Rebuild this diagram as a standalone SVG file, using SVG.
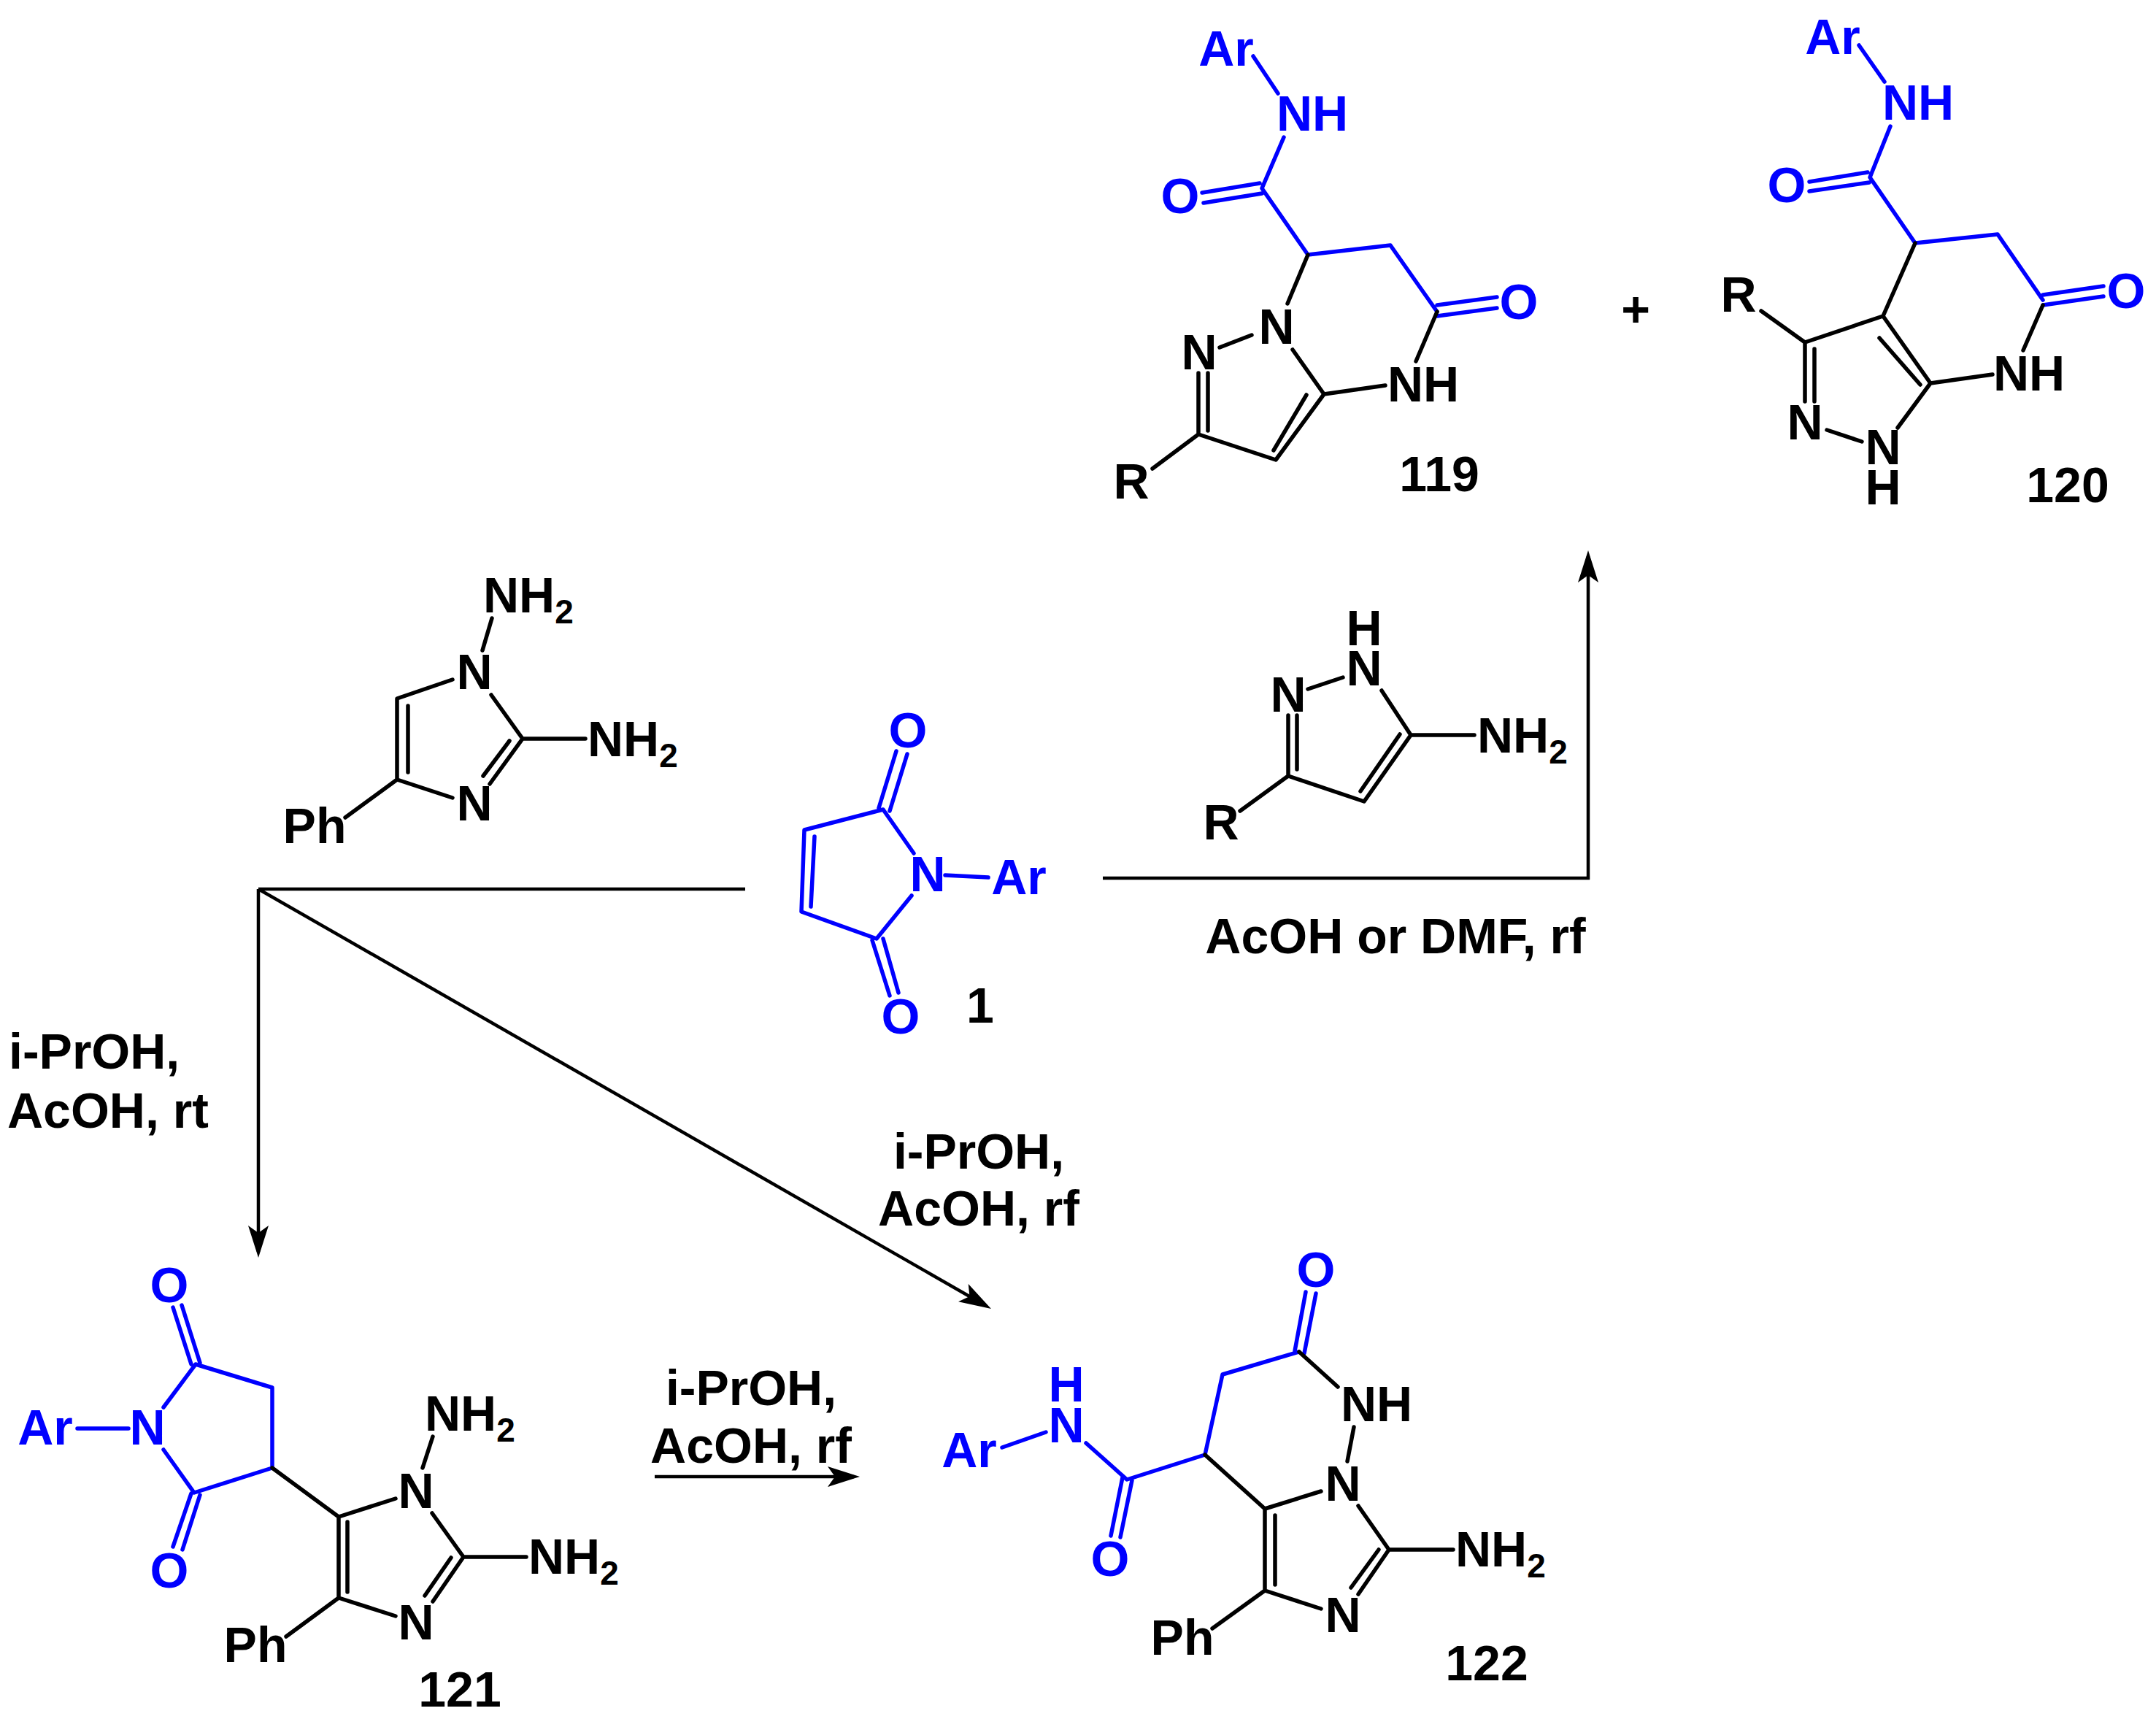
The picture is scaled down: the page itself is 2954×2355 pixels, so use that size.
<svg xmlns="http://www.w3.org/2000/svg" width="2954" height="2355" viewBox="0 0 2954 2355">
<style>
text{font-family:"Liberation Sans",Arial,sans-serif;font-weight:700;font-size:68px;fill:#000;text-anchor:middle}
.u{fill:#0000ff}
.s{text-anchor:start}
.e{font-size:46px}
path{fill:none;stroke-linecap:round;stroke-linejoin:round}
.k{stroke:#000;stroke-width:5.5}
.c{stroke:#0000ff;stroke-width:5.5}
.a{stroke:#000;stroke-width:4.5;stroke-linecap:butt}
</style>
<defs>
<marker id="ah" markerUnits="userSpaceOnUse" markerWidth="44" markerHeight="28" viewBox="0 0 44 28" refX="36" refY="14" orient="auto"><path d="M44 14L0 0L10 14L0 28Z" style="fill:#000;stroke:none"/></marker>
</defs>
<rect width="2954" height="2355" fill="#fff"/>

<g id="connectors">
<path class="a" d="M1021 1218H354"/>
<path class="a" d="M354 1218V1715" marker-end="url(#ah)"/>
<path class="a" d="M354 1218L1351 1789" marker-end="url(#ah)"/>
<path class="a" d="M1511 1203H2178"/>
<path class="a" d="M2176 1205V762" marker-end="url(#ah)"/>
<path class="a" d="M897 2023H1170" marker-end="url(#ah)"/>
</g>

<g id="compound-119">
<path class="c" d="M1717 77L1751 128M1759 188L1729 258L1792 349L1905 336L1969 427M1647 264L1726 251M1649 278L1729 265M1969 418L2051 407M1969 433L2051 422"/>
<path class="k" d="M1969 427L1940 495M1792 349L1764 416M1715 459L1671 476M1771 479L1814 540L1898 528M1814 540L1748 630L1642 595L1642 511M1790 541L1745 617M1655 590L1655 511M1642 595L1579 642"/>
<text class="u" x="1680" y="90">Ar</text><text class="u" x="1798" y="179">NH</text>
<text class="u" x="1617" y="292">O</text><text class="u" x="2081" y="437">O</text>
<text x="1950" y="550">NH</text><text x="1749" y="471">N</text><text x="1643" y="506">N</text>
<text x="1550" y="683">R</text><text x="1972" y="673">119</text>
</g>

<g id="plus"><text x="2241" y="447">+</text></g>

<g id="compound-120">
<path class="c" d="M2547 62L2582 112M2590 173L2562 243L2624 333L2737 321L2799 411M2479 249L2559 236M2479 262L2561 250M2799 404L2882 392M2799 418L2882 406"/>
<path class="k" d="M2799 418L2772 480M2624 333L2580 433L2473 469L2473 550M2486 478L2486 550M2473 469L2413 426M2503 589L2551 605M2600 586L2645 525L2580 433M2575 463L2631 527M2645 525L2730 513"/>
<text class="u" x="2511" y="74">Ar</text><text class="u" x="2628" y="164">NH</text>
<text class="u" x="2448" y="277">O</text><text class="u" x="2913" y="422">O</text>
<text x="2780" y="535">NH</text><text x="2382" y="427">R</text><text x="2473" y="602">N</text>
<text x="2580" y="636">N</text><text x="2580" y="691">H</text><text x="2833" y="688">120</text>
</g>

<g id="aminopyrazole">
<path class="k" d="M1840 928L1792 944M1893 946L1933 1007L2020 1007M1933 1007L1869 1098L1765 1063L1765 980M1918 1006L1864 1084M1777 1054L1777 980M1765 1063L1699 1111"/>
<text x="1869" y="884">H</text><text x="1869" y="939">N</text><text x="1765" y="975">N</text>
<text class="s" x="2024" y="1031">NH<tspan class="e" dy="15">2</tspan></text>
<text x="1673" y="1150">R</text>
</g>

<g id="diaminoimidazole">
<path class="k" d="M674 847L661 891M620 931L544 957L544 1068L620 1093M559 967L559 1058M673 952L716 1012L671 1074M698 1015L662 1063M716 1012L802 1012M544 1068L473 1120"/>
<text class="s" x="662" y="839">NH<tspan class="e" dy="15">2</tspan></text>
<text x="650" y="944">N</text><text x="650" y="1124">N</text>
<text class="s" x="805" y="1036">NH<tspan class="e" dy="15">2</tspan></text>
<text x="431" y="1155">Ph</text>
</g>

<g id="maleimide-1">
<path class="c" d="M1228 1029L1204 1107M1243 1033L1219 1111M1252 1169L1210 1109L1102 1137L1098 1249L1201 1286L1249 1227M1116 1146L1111 1242M1295 1199L1354 1202M1195 1288L1219 1364M1210 1286L1231 1360"/>
<text class="u" x="1244" y="1024">O</text><text class="u" x="1271" y="1221">N</text>
<text class="u" x="1396" y="1225">Ar</text><text class="u" x="1234" y="1416">O</text>
<text x="1343" y="1401">1</text>
</g>

<g id="compound-121">
<path class="c" d="M237 1791L262 1869M249 1788L274 1867M224 1928L268 1869L373 1901L373 2011L266 2045L224 1986M106 1957L176 1957M262 2046L237 2119M274 2048L250 2123"/>
<path class="k" d="M373 2011L464 2078L464 2189L542 2214M476 2085L476 2181M464 2078L542 2053M593 1968L579 2011M592 2073L635 2133L721 2133M635 2133L593 2194M618 2134L582 2186M464 2189L392 2242"/>
<text class="u" x="232" y="1784">O</text><text class="u" x="202" y="1979">N</text>
<text class="u" x="62" y="1979">Ar</text><text class="u" x="232" y="2175">O</text>
<text x="570" y="2066">N</text><text x="570" y="2246">N</text>
<text class="s" x="582" y="1960">NH<tspan class="e" dy="15">2</tspan></text>
<text class="s" x="724" y="2156">NH<tspan class="e" dy="15">2</tspan></text>
<text x="350" y="2277">Ph</text><text x="630" y="2338">121</text>
</g>

<g id="compound-122">
<path class="c" d="M1789 1770L1774 1851M1803 1772L1787 1854M1780 1852L1675 1883L1651 1993L1544 2027L1488 1977M1373 1983L1433 1962M1538 2024L1522 2104M1551 2028L1535 2106"/>
<path class="k" d="M1780 1852L1833 1900M1855 1955L1846 2002M1810 2043L1733 2067L1651 1993M1733 2067L1733 2179L1810 2204M1747 2076L1747 2171M1861 2063L1903 2123L1991 2123M1903 2123L1861 2184M1889 2123L1851 2175M1733 2179L1661 2231"/>
<text class="u" x="1803" y="1763">O</text><text class="u" x="1328" y="2010">Ar</text>
<text class="u" x="1461" y="1920">H</text><text class="u" x="1461" y="1976">N</text>
<text class="u" x="1521" y="2159">O</text>
<text x="1886" y="1947">NH</text><text x="1840" y="2056">N</text><text x="1840" y="2236">N</text>
<text class="s" x="1994" y="2146">NH<tspan class="e" dy="15">2</tspan></text>
<text x="1620" y="2267">Ph</text><text x="2037" y="2302">122</text>
</g>

<g id="conditions">
<text x="1912" y="1306">AcOH or DMF, rf</text>
<text class="s" x="12" y="1464">i-PrOH,</text>
<text class="s" x="10" y="1545">AcOH, rt</text>
<text x="1341" y="1601">i-PrOH,</text>
<text x="1341" y="1679">AcOH, rf</text>
<text x="1029" y="1925">i-PrOH,</text>
<text x="1029" y="2004">AcOH, rf</text>
</g>
</svg>
